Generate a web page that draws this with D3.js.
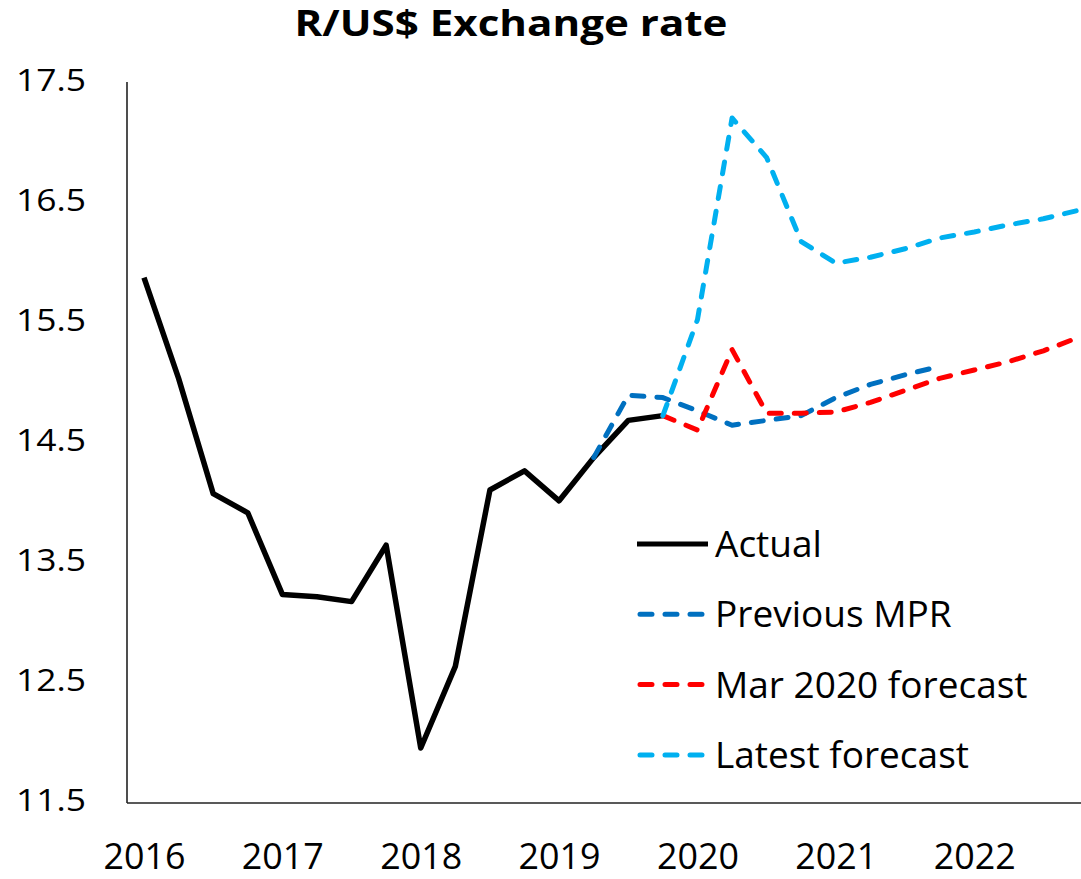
<!DOCTYPE html>
<html>
<head>
<meta charset="utf-8">
<script src="https://cdn.jsdelivr.net/npm/d3@7"></script>
<style>
  html, body { margin: 0; padding: 0; background: #fff; }
  svg { display: block; font-family: "Open Sans", "Noto Sans", sans-serif; }
</style>
</head>
<body>
<svg id="chart" width="1081" height="879"></svg>
<script>
// ---- data ----
const quarters = [
  "2016Q1","2016Q2","2016Q3","2016Q4",
  "2017Q1","2017Q2","2017Q3","2017Q4",
  "2018Q1","2018Q2","2018Q3","2018Q4",
  "2019Q1","2019Q2","2019Q3","2019Q4",
  "2020Q1","2020Q2","2020Q3","2020Q4",
  "2021Q1","2021Q2","2021Q3","2021Q4",
  "2022Q1","2022Q2","2022Q3","2022Q4"
];
const yearLabels = ["2016","2017","2018","2019","2020","2021","2022"];
const yTicks = [11.5, 12.5, 13.5, 14.5, 15.5, 16.5, 17.5];

const actual = [15.87, 15.03, 14.07, 13.91, 13.23, 13.21, 13.17, 13.64,
                11.95, 12.63, 14.10, 14.26, 14.01, 14.37, 14.68, 14.72];
const previousMPR = [null, null, null, null, null, null, null, null, null, null, null, null, null,
                14.37, 14.89, 14.87, 14.76, 14.64, 14.68, 14.72, 14.87, 14.98, 15.06, 15.13];
const mar2020 = [null, null, null, null, null, null, null, null, null, null, null, null, null, null, null,
                14.72, 14.60, 15.27, 14.74, 14.74, 14.75, 14.83, 14.93, 15.03, 15.10, 15.17, 15.26, 15.37];
const latest = [null, null, null, null, null, null, null, null, null, null, null, null, null, null, null,
                14.72, 15.52, 17.20, 16.87, 16.17, 15.99, 16.04, 16.11, 16.20, 16.25, 16.31, 16.36, 16.43];

const seriesNames = ["Actual", "Previous MPR", "Mar 2020 forecast", "Latest forecast"];
const seriesColors = ["#000000", "#0070C0", "#FF0000", "#00B0F0"];
const seriesData = [actual, previousMPR, mar2020, latest];
const seriesDashed = [false, true, true, true];

// ---- layout ----
const svg = d3.select("#chart");
const plotLeft = 127, plotRight = 1081, plotTop = 82, plotBottom = 802;

const x = d3.scalePoint().domain(quarters).range([144, 1078]);
const y = d3.scaleLinear().domain([11.5, 17.5]).range([plotBottom, plotTop]);

// title
svg.append("text")
  .attr("x", 511).attr("y", 36)
  .attr("text-anchor", "middle")
  .attr("font-size", 35).attr("font-weight", "bold")
  .attr("textLength", 433).attr("lengthAdjust", "spacingAndGlyphs")
  .text("R/US$ Exchange rate");

// y axis
const yAxis = d3.axisLeft(y).tickValues(yTicks).tickSize(0).tickPadding(41)
  .tickFormat(d3.format(".1f"));
const gy = svg.append("g").attr("transform", `translate(${plotLeft},0)`).call(yAxis);
gy.select(".domain").remove();
gy.selectAll("text")
  .attr("font-size", 31).attr("fill", "#000")
  .attr("font-family", "'Open Sans', sans-serif")
  .attr("dy", null).attr("y", 8)
  .attr("textLength", 70).attr("lengthAdjust", "spacingAndGlyphs");

// x axis
const yearByQ = {};
quarters.forEach((q, i) => { if (i % 4 === 0) yearByQ[q] = yearLabels[i / 4]; });
const xAxis = d3.axisBottom(x)
  .tickValues(quarters.filter((q, i) => i % 4 === 0))
  .tickFormat(q => yearByQ[q]).tickSize(0).tickPadding(0);
const gx = svg.append("g").attr("transform", `translate(0,${plotBottom})`).call(xAxis);
gx.select(".domain").remove();
gx.selectAll("text")
  .attr("font-size", 37).attr("fill", "#000")
  .attr("font-family", "'Open Sans', sans-serif")
  .attr("dy", null).attr("y", 67)
  .attr("textLength", 82).attr("lengthAdjust", "spacingAndGlyphs");

// axis lines
svg.append("line")
  .attr("x1", plotLeft).attr("x2", plotLeft)
  .attr("y1", plotTop).attr("y2", plotBottom + 1)
  .attr("stroke", "#222").attr("stroke-width", 1.6);
svg.append("line")
  .attr("x1", plotLeft).attr("x2", plotRight)
  .attr("y1", plotBottom + 1).attr("y2", plotBottom + 1)
  .attr("stroke", "#222").attr("stroke-width", 1.6);

// lines
const line = d3.line()
  .defined(d => d != null)
  .x((d, i) => x(quarters[i]))
  .y(d => y(d));

seriesData.forEach((data, k) => {
  svg.append("path")
    .datum(data)
    .attr("d", line)
    .attr("fill", "none")
    .attr("stroke", seriesColors[k])
    .attr("stroke-width", k === 0 ? 5.5 : 5)
    .attr("stroke-linejoin", "round")
    .attr("stroke-linecap", seriesDashed[k] ? "round" : "butt")
    .attr("stroke-dasharray", seriesDashed[k] ? "12 13" : null);
});

// legend
const legendY0 = 544, legendStep = 70.3;
seriesNames.forEach((name, k) => {
  const ly = legendY0 + k * legendStep;
  svg.append("line")
    .attr("x1", seriesDashed[k] ? 640 : 637).attr("x2", seriesDashed[k] ? 705 : 708)
    .attr("y1", ly).attr("y2", ly)
    .attr("stroke", seriesColors[k])
    .attr("stroke-width", 5)
    .attr("stroke-linecap", seriesDashed[k] ? "round" : "butt")
    .attr("stroke-dasharray", seriesDashed[k] ? "12 13" : null);
  svg.append("text")
    .attr("x", 715).attr("y", ly + 13)
    .attr("font-size", 37).attr("fill", "#000")
    .text(name);
});
</script>
</body>
</html>
